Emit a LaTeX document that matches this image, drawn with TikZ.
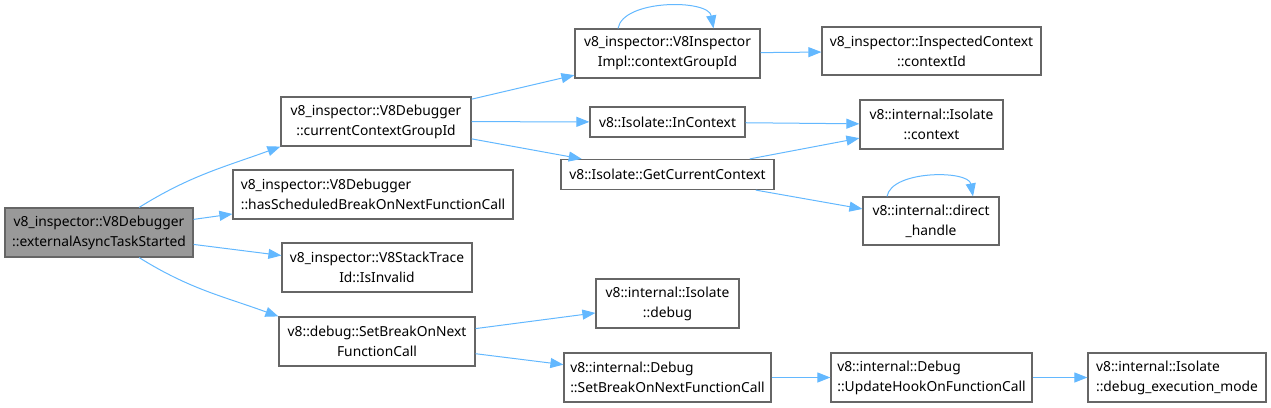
\documentclass[tikz,border=0pt]{standalone}
\usepackage{fontspec}
\setmainfont{Noto Sans}
\usepackage{tikz}
\usetikzlibrary{arrows.meta,positioning}
\definecolor{edgeblue}{HTML}{63B8FF}
\definecolor{boxgray}{HTML}{666666}
\definecolor{rootgray}{HTML}{999999}
\tikzset{
  >={Triangle[length=13pt,width=10pt]},
  fn/.style={
    draw=boxgray, rectangle, align=center, inner sep=2pt, line width=1.2pt,
    font=\fontsize{13.8}{20}\selectfont, fill=white
  },
  fnleft/.style={fn, align=left},
  rootfn/.style={fn, fill=rootgray},
  call/.style={->, draw=edgeblue, line width=1pt},
}

\begin{document}
\begin{tikzpicture}[x=1pt, y=-1pt]
  \useasboundingbox (0,0) rectangle (1271,407);
  \node[rootfn, minimum width=188pt, minimum height=49pt] (root) at (99,232.5) {v8\_inspector::V8Debugger\\::externalAsyncTaskStarted};
  \node[fn, minimum width=190pt, minimum height=49pt] (cur) at (376,121.5) {v8\_inspector::V8Debugger\\::currentContextGroupId};
  \node[fnleft, minimum width=280pt, minimum height=49pt] (has) at (373,194.5) {v8\_inspector::V8Debugger\\::hasScheduledBreakOnNextFunctionCall};
  \node[fn, minimum width=190pt, minimum height=49pt] (stid) at (377,267.5) {v8\_inspector::V8StackTrace\\Id::IsInvalid};
  \node[fn, minimum width=196pt, minimum height=49pt] (sbo) at (377,341.5) {v8::debug::SetBreakOnNext\\FunctionCall};
  \node[fn, minimum width=185pt, minimum height=49pt] (impl) at (667.5,53.5) {v8\_inspector::V8Inspector\\Impl::contextGroupId};
  \node[fn, minimum width=219pt, minimum height=48pt] (inctx) at (931.5,51) {v8\_inspector::InspectedContext\\::contextId};
  \node[fn, minimum width=155pt, minimum height=30pt] (incontext) at (667.5,122) {v8::Isolate::InContext};
  \node[fn, minimum width=213pt, minimum height=30pt] (gcc) at (667.5,174.5) {v8::Isolate::GetCurrentContext};
  \node[fn, minimum width=143pt, minimum height=49pt] (ctx) at (931.5,124.5) {v8::internal::Isolate\\::context};
  \node[fn, minimum width=136pt, minimum height=48pt] (dh) at (931,221) {v8::internal::direct\\\_handle};
  \node[fn, minimum width=143pt, minimum height=49pt] (idebug) at (667.5,303.5) {v8::internal::Isolate\\::debug};
  \node[fnleft, minimum width=207pt, minimum height=49pt] (dsbo) at (667.5,377.5) {v8::internal::Debug\\::SetBreakOnNextFunctionCall};
  \node[fnleft, minimum width=201pt, minimum height=49pt] (uh) at (931.5,377.5) {v8::internal::Debug\\::UpdateHookOnFunctionCall};
  \node[fnleft, minimum width=178pt, minimum height=49pt] (dem) at (1177,377.5) {v8::internal::Isolate\\::debug\_execution\_mode};
  % calls from the root
  \draw[call] (root) to[out=32, in=200] (cur.south west);
  \draw[call] (root) -- (has);
  \draw[call] (root) -- (stid);
  \draw[call] (root) to[out=-32, in=160] (sbo.north west);
  % second level
  \draw[call] (cur) -- (impl);
  \draw[call] (cur) -- (incontext);
  \draw[call] (cur) -- (gcc);
  \draw[call] ([xshift=-49.5pt]impl.north) to[out=80, in=100, looseness=0.8] ([xshift=46pt]impl.north);
  \draw[call] (impl) -- (inctx);
  \draw[call] (incontext) -- (ctx);
  \draw[call] (gcc) -- (ctx);
  \draw[call] (gcc) -- (dh);
  \draw[call] ([xshift=-44pt]dh.north) to[out=80, in=100, looseness=0.8] ([xshift=42pt]dh.north);
  \draw[call] (sbo) -- (idebug);
  \draw[call] (sbo) -- (dsbo);
  \draw[call] (dsbo) -- (uh);
  \draw[call] (uh) -- (dem);
\end{tikzpicture}
\end{document}
